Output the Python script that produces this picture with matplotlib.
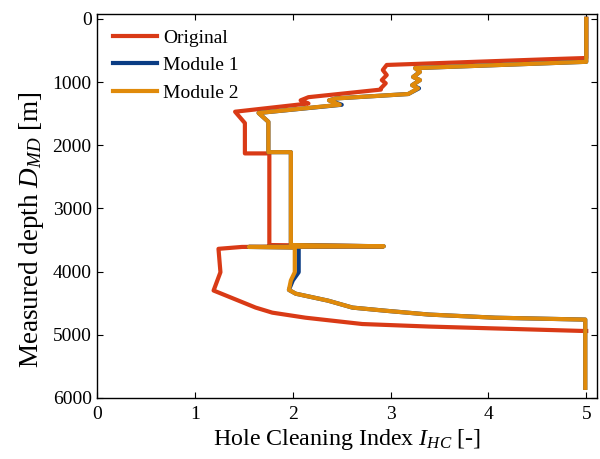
import matplotlib
matplotlib.use('Agg')
import matplotlib.pyplot as plt

# hole cleaning index vs measured depth
orig_x = [5.0, 5.0, 4.6, 2.96, 2.92, 2.96, 2.91, 2.95, 2.90, 2.90, 2.16, 2.08, 2.16,
          1.41, 1.51, 1.51, 1.76, 1.76, 2.92, 1.48, 1.24, 1.26, 1.19, 1.27, 1.62,
          1.79, 2.13, 2.71, 3.39, 4.07, 4.97, 5.0]
orig_d = [0, 620, 640, 730, 810, 890, 970, 1020, 1100, 1120, 1240, 1290, 1340,
          1470, 1650, 2130, 2130, 3580, 3600, 3610, 3640, 4010, 4300, 4350, 4570,
          4650, 4730, 4830, 4870, 4900, 4940, 4940]

mod1_x = [5.0, 5.0, 3.25, 3.30, 3.23, 3.30, 3.22, 3.29, 3.18, 2.44, 2.37, 2.50,
          1.65, 1.75, 1.75, 1.98, 1.98, 2.93, 1.55, 2.06, 2.06, 2.00, 1.96, 2.03,
          2.36, 2.61, 2.95, 3.39, 4.07, 4.99, 4.99]
mod1_d = [0, 680, 780, 840, 920, 970, 1050, 1100, 1190, 1260, 1290, 1360,
          1490, 1630, 2110, 2110, 3580, 3600, 3610, 3620, 4010, 4140, 4290, 4350,
          4460, 4570, 4620, 4680, 4730, 4760, 5840]

mod2_x = [5.0, 5.0, 3.25, 3.30, 3.23, 3.30, 3.22, 3.28, 3.18, 2.44, 2.37, 2.48,
          1.65, 1.75, 1.75, 1.98, 1.98, 2.93, 1.55, 2.02, 2.02, 1.98, 1.96, 2.03,
          2.36, 2.61, 2.95, 3.39, 4.07, 4.99, 4.99]
mod2_d = mod1_d

plt.rcParams['font.family'] = 'Liberation Serif'
plt.rcParams['mathtext.fontset'] = 'custom'
plt.rcParams['mathtext.rm'] = 'Liberation Serif'
plt.rcParams['mathtext.it'] = 'Liberation Serif:italic'

fig = plt.figure(figsize=(6, 4.59), dpi=100)
ax = fig.add_axes([0.162, 0.133, 0.833, 0.837])

ax.plot(orig_x, orig_d, color='#D93A16', lw=3, label='Original', solid_joinstyle='round')
ax.plot(mod1_x, mod1_d, color='#0A3C84', lw=3, label='Module 1', solid_joinstyle='round')
ax.plot(mod2_x, mod2_d, color='#E08A0A', lw=3, label='Module 2', solid_joinstyle='round')

ax.set_xlim(0, 5.11)
ax.set_ylim(6000, -80)
ax.set_xticks([0, 1, 2, 3, 4, 5])
ax.set_yticks([0, 1000, 2000, 3000, 4000, 5000, 6000])
ax.tick_params(direction='in', top=True, right=True, length=4, labelsize=14)
ax.tick_params(axis='x', pad=6)
ax.tick_params(axis='y', pad=4)
for s in ax.spines.values():
    s.set_linewidth(1.0)

ax.set_xlabel('Hole Cleaning Index $I_{HC}$ [-]', fontsize=17.3, labelpad=3)
ax.set_ylabel('Measured depth $D_{MD}$ [m]', fontsize=19.5, labelpad=5)
ax.yaxis.label.set_y(0.4375)

ax.legend(loc='upper left', frameon=False, fontsize=14, handlelength=2.3,
          borderaxespad=0.4, labelspacing=0.5, handletextpad=0.3)

fig.savefig('out.png', dpi=100)
